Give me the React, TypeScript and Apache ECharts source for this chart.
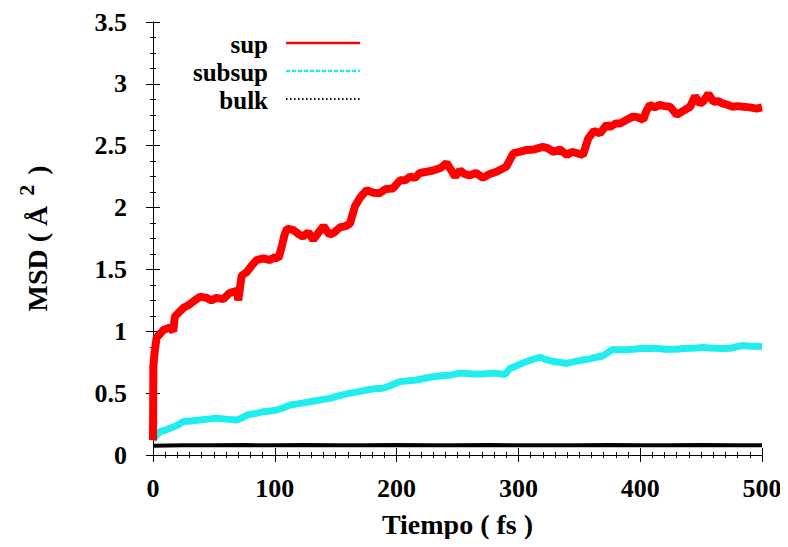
import React, { useEffect, useRef } from "react";
import * as echarts from "echarts";

// ---- data ----
const supT = [0, 0.3, 1, 2, 3, 5, 8.5, 11, 14, 16.6, 18, 21, 25, 29, 33, 38.6, 44, 48, 52, 57.7, 63, 67, 69, 70, 72.8, 77, 81, 85, 90.6, 96, 100, 103, 105.6, 108, 110, 115, 119, 123, 127.5, 131.6, 136, 140, 145, 149, 153.5, 158, 161.7, 165.8, 170, 175.4, 181, 186, 191, 197, 202.8, 207, 211, 215, 219, 225, 230, 236, 241, 245, 248, 252, 256, 260, 265, 271, 276, 282, 290, 296, 301, 306.8, 313, 320, 324, 328.6, 334, 339.7, 344, 347.9, 353, 357.4, 362, 367, 372.5, 375, 380, 383.4, 389, 394, 398, 402.5, 405, 408, 412, 416, 420, 424.5, 430, 435, 441, 445, 449, 452, 456, 460, 464, 468, 472, 476, 480, 484.6, 490, 495.6, 500];
const supV = [0.12, 0.72, 0.8, 0.88, 0.95, 0.97, 1.01, 1.02, 1.03, 1.0, 1.12, 1.15, 1.19, 1.21, 1.24, 1.28, 1.27, 1.25, 1.27, 1.26, 1.31, 1.32, 1.33, 1.25, 1.45, 1.48, 1.53, 1.576, 1.59, 1.576, 1.6, 1.59, 1.68, 1.78, 1.83, 1.82, 1.79, 1.765, 1.8, 1.74, 1.8, 1.85, 1.78, 1.8, 1.84, 1.85, 1.87, 2.01, 2.08, 2.14, 2.12, 2.115, 2.15, 2.155, 2.22, 2.22, 2.25, 2.24, 2.28, 2.29, 2.3, 2.32, 2.36, 2.3, 2.25, 2.3, 2.27, 2.26, 2.28, 2.24, 2.27, 2.29, 2.33, 2.44, 2.45, 2.466, 2.47, 2.49, 2.48, 2.45, 2.47, 2.425, 2.45, 2.44, 2.425, 2.56, 2.62, 2.6, 2.67, 2.65, 2.68, 2.68, 2.71, 2.735, 2.73, 2.71, 2.78, 2.83, 2.81, 2.83, 2.82, 2.815, 2.75, 2.78, 2.815, 2.9, 2.84, 2.86, 2.92, 2.856, 2.86, 2.84, 2.83, 2.815, 2.82, 2.815, 2.81, 2.8, 2.81];

const subsupT = [0, 2, 5.7, 10, 14, 20, 25, 31, 38.6, 45, 52, 60, 68.7, 73, 77, 84, 90.6, 96, 101.5, 107, 112.5, 120, 129, 137, 145, 153, 161.7, 168, 175.4, 182, 189, 196, 202.8, 210, 216.5, 223, 230, 237, 243.8, 250.7, 255, 263, 271, 277, 282, 289, 293, 298, 304, 311, 317.7, 323, 328.7, 334, 339.6, 346, 353, 358, 364, 369, 372.5, 376.6, 383, 388.9, 395, 402.6, 408, 413.5, 420, 425, 430, 436, 441, 446, 451.8, 457, 462.8, 468, 473.7, 479, 484.6, 490, 495.6, 500];
const subsupV = [0.12, 0.15, 0.19, 0.2, 0.216, 0.24, 0.27, 0.275, 0.283, 0.29, 0.297, 0.29, 0.283, 0.3, 0.323, 0.335, 0.35, 0.355, 0.364, 0.38, 0.404, 0.415, 0.43, 0.445, 0.458, 0.48, 0.5, 0.51, 0.525, 0.535, 0.54, 0.565, 0.593, 0.6, 0.606, 0.62, 0.633, 0.64, 0.645, 0.66, 0.66, 0.655, 0.655, 0.66, 0.66, 0.65, 0.7, 0.72, 0.745, 0.77, 0.79, 0.77, 0.755, 0.75, 0.74, 0.755, 0.768, 0.775, 0.79, 0.8, 0.82, 0.85, 0.85, 0.85, 0.855, 0.862, 0.86, 0.862, 0.855, 0.855, 0.855, 0.86, 0.862, 0.865, 0.87, 0.865, 0.862, 0.86, 0.862, 0.875, 0.885, 0.88, 0.88, 0.875];

const bulkT = [0, 25, 50, 75, 100, 125, 150, 175, 200, 225, 250, 275, 300, 325, 350, 375, 400, 425, 450, 475, 500];
const bulkV = [0.075, 0.078, 0.079, 0.08, 0.078, 0.08, 0.079, 0.078, 0.08, 0.078, 0.079, 0.08, 0.078, 0.079, 0.078, 0.08, 0.079, 0.078, 0.08, 0.079, 0.078];

const legendNames = ["sup", "subsup", "bulk"];
const xTicks = { min: 0, max: 500, interval: 100 };
const yTicks = { min: 0, max: 3.5, interval: 0.5 };

const FONT = "'Liberation Serif', 'Times New Roman', serif";

function pairs(t: number[], v: number[]) {
  return t.map((x, i) => [x, v[i]]);
}

export default function App() {
  const ref = useRef<HTMLDivElement>(null);
  useEffect(() => {
    if (!ref.current) return;
    const chart = echarts.init(ref.current, undefined, { renderer: "svg" });
    const axisLine = { show: true, lineStyle: { color: "#000", width: 1 } };
    const tickCommon = { show: true, inside: false, length: 7, lineStyle: { color: "#000", width: 1 } };
    const labelStyle = { fontFamily: FONT, fontWeight: "bold" as const, fontSize: 26, color: "#000" };
    const xBase = { type: "value" as const, ...xTicks, axisLine, axisTick: tickCommon, splitLine: { show: false } };
    const yBase = { type: "value" as const, ...yTicks, axisLine, axisTick: tickCommon, splitLine: { show: false } };

    const legendY = [43, 71, 99];
    const legendStyles = [
      { stroke: "#ff0000", lineWidth: 2.5, lineDash: null as any },
      { stroke: "#20eeee", lineWidth: 2.5, lineDash: [4, 2] },
      { stroke: "#000", lineWidth: 2, lineDash: [1.5, 2.5] },
    ];
    const graphic: any[] = [];
    legendNames.forEach((n, i) => {
      graphic.push({
        type: "text",
        x: 268,
        y: legendY[i] + 1,
        style: { text: n, font: `bold 25px ${FONT}`, fill: "#000", align: "right", verticalAlign: "middle" },
      });
      graphic.push({
        type: "line",
        shape: { x1: 286, y1: legendY[i], x2: 360, y2: legendY[i] },
        style: { ...legendStyles[i] },
      });
    });

    chart.setOption({
      animation: false,
      backgroundColor: "#fff",
      grid: { left: 153, right: 26, top: 22, bottom: 92, containLabel: false },
      xAxis: [
        {
          ...xBase,
          position: "bottom",
          minorTick: { show: true, splitNumber: 10, length: 3, lineStyle: { color: "#000" } },
          axisLabel: { ...labelStyle, margin: 20 },
          name: "Tiempo ( fs )",
          nameLocation: "middle",
          nameGap: 55,
          nameTextStyle: { ...labelStyle, fontSize: 28 },
        },
        {
          ...xBase,
          position: "top",
          minorTick: { show: true, splitNumber: 10, length: 3, lineStyle: { color: "#000" } },
          axisLabel: { show: false },
        },
      ],
      yAxis: [
        {
          ...yBase,
          position: "left",
          minorTick: { show: true, splitNumber: 4, length: 3, lineStyle: { color: "#000" } },
          axisLabel: { ...labelStyle, margin: 26 },
          name: "{n|MSD ( Å }{s|2}{n| )}",
          nameLocation: "middle",
          nameRotate: 90,
          nameGap: 102,
          nameTextStyle: {
            ...labelStyle,
            fontSize: 28,
            rich: {
              n: { fontFamily: FONT, fontWeight: "bold", fontSize: 28, color: "#000", verticalAlign: "bottom", lineHeight: 34 },
              s: { fontFamily: FONT, fontWeight: "bold", fontSize: 22, color: "#000", verticalAlign: "bottom", padding: [0, 3, 14, 3], lineHeight: 34 },
            },
          },
        },
        {
          ...yBase,
          position: "right",
          minorTick: { show: true, splitNumber: 4, length: 3, lineStyle: { color: "#000" } },
          axisLabel: { show: false },
        },
      ],
      graphic,
      series: [
        {
          name: legendNames[2],
          type: "line",
          data: pairs(bulkT, bulkV),
          showSymbol: false,
          lineStyle: { color: "#000", width: 4 },
          z: 2,
        },
        {
          name: legendNames[1],
          type: "line",
          data: pairs(subsupT, subsupV),
          showSymbol: false,
          lineStyle: { color: "#20eeee", width: 7 },
          z: 3,
        },
        {
          name: legendNames[0],
          type: "line",
          data: pairs(supT, supV),
          showSymbol: false,
          lineStyle: { color: "#ff0000", width: 8 },
          z: 4,
        },
      ],
    });
    return () => chart.dispose();
  }, []);
  return <div ref={ref} style={{ width: 788, height: 547, margin: -8 }} />;
}
